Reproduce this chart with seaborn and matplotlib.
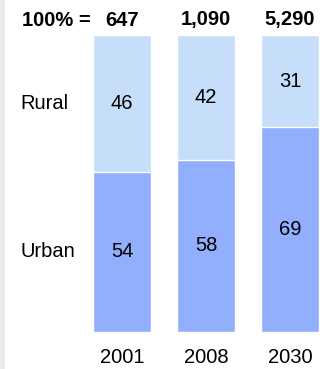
import matplotlib
matplotlib.use("Agg")
import matplotlib.pyplot as plt
import matplotlib.transforms as mtransforms
from matplotlib.patches import Rectangle
import seaborn as sns
import pandas as pd

# ---- data ----
years = ["2001", "2008", "2030"]
totals = ["647", "1,090", "5,290"]
urban = [54, 58, 69]
rural = [46, 42, 31]
segment_names = ["Rural", "Urban"]
header_label = "100% ="

LIGHT = "#C6DEFA"
DARK = "#92AFFE"

sns.set_theme(style="white")
plt.rcParams['font.family'] = ['Liberation Sans', 'DejaVu Sans']

W, H = 320, 369
fig = plt.figure(figsize=(W / 100, H / 100), dpi=100)
fig.patch.set_facecolor("white")
fig.patches.append(Rectangle((0, 0), 5 / W, 1, transform=fig.transFigure,
                             facecolor="#EBEBEB", edgecolor="none", zorder=0))

top_px, bot_px = 35, 332
ax = fig.add_axes([5 / W, (H - bot_px) / H, (W - 5) / W, (bot_px - top_px) / H])
ax.set_facecolor("none")

df = pd.DataFrame({"year": years, "urban": urban, "rural": rural})
df["total"] = df["urban"] + df["rural"]

bw = 58 / 84
sns.barplot(data=df, x="year", y="total", color=LIGHT, saturation=1, width=bw,
            edgecolor="white", linewidth=1, ax=ax)
sns.barplot(data=df, x="year", y="urban", color=DARK, saturation=1, width=bw,
            edgecolor="white", linewidth=1, ax=ax)

# pixel mapping: center 0 at x=122, 84 px per unit
ax.set_xlim((5 - 122) / 84, (320 - 122) / 84)
ax.set_ylim(0, 100)
ax.set_xticks([])
ax.set_yticks([])
ax.set_xlabel("")
ax.set_ylabel("")
for s in ax.spines.values():
    s.set_visible(False)

fs = 14.5
# value labels centered in segments
for i in range(len(years)):
    ax.text(i, urban[i] / 2, str(urban[i]), ha="center", va="center", fontsize=fs, color="black")
    ax.text(i, urban[i] + rural[i] / 2, str(rural[i]), ha="center", va="center", fontsize=fs, color="black")

# header totals and year labels (figure y, data x)
trans = mtransforms.blended_transform_factory(ax.transData, fig.transFigure)
for i in range(len(years)):
    ax.text(i, 1 - 20 / H, totals[i], transform=trans, ha="center", va="center",
            fontsize=fs, fontweight="bold", color="black")
    ax.text(i, 1 - 357.5 / H, years[i], transform=trans, ha="center", va="center",
            fontsize=fs, color="black")

fig.text(22 / W, 1 - 20 / H, header_label, ha="left", va="center", fontsize=fs,
         fontweight="bold", color="black")

# segment names
trans2 = mtransforms.blended_transform_factory(fig.transFigure, ax.transData)
fig.text(20 / W, urban[0] + rural[0] / 2, segment_names[0], transform=trans2,
         ha="left", va="center", fontsize=fs, color="black")
fig.text(20 / W, urban[0] / 2, segment_names[1], transform=trans2,
         ha="left", va="center", fontsize=fs, color="black")

fig.savefig("out.png", dpi=100)
